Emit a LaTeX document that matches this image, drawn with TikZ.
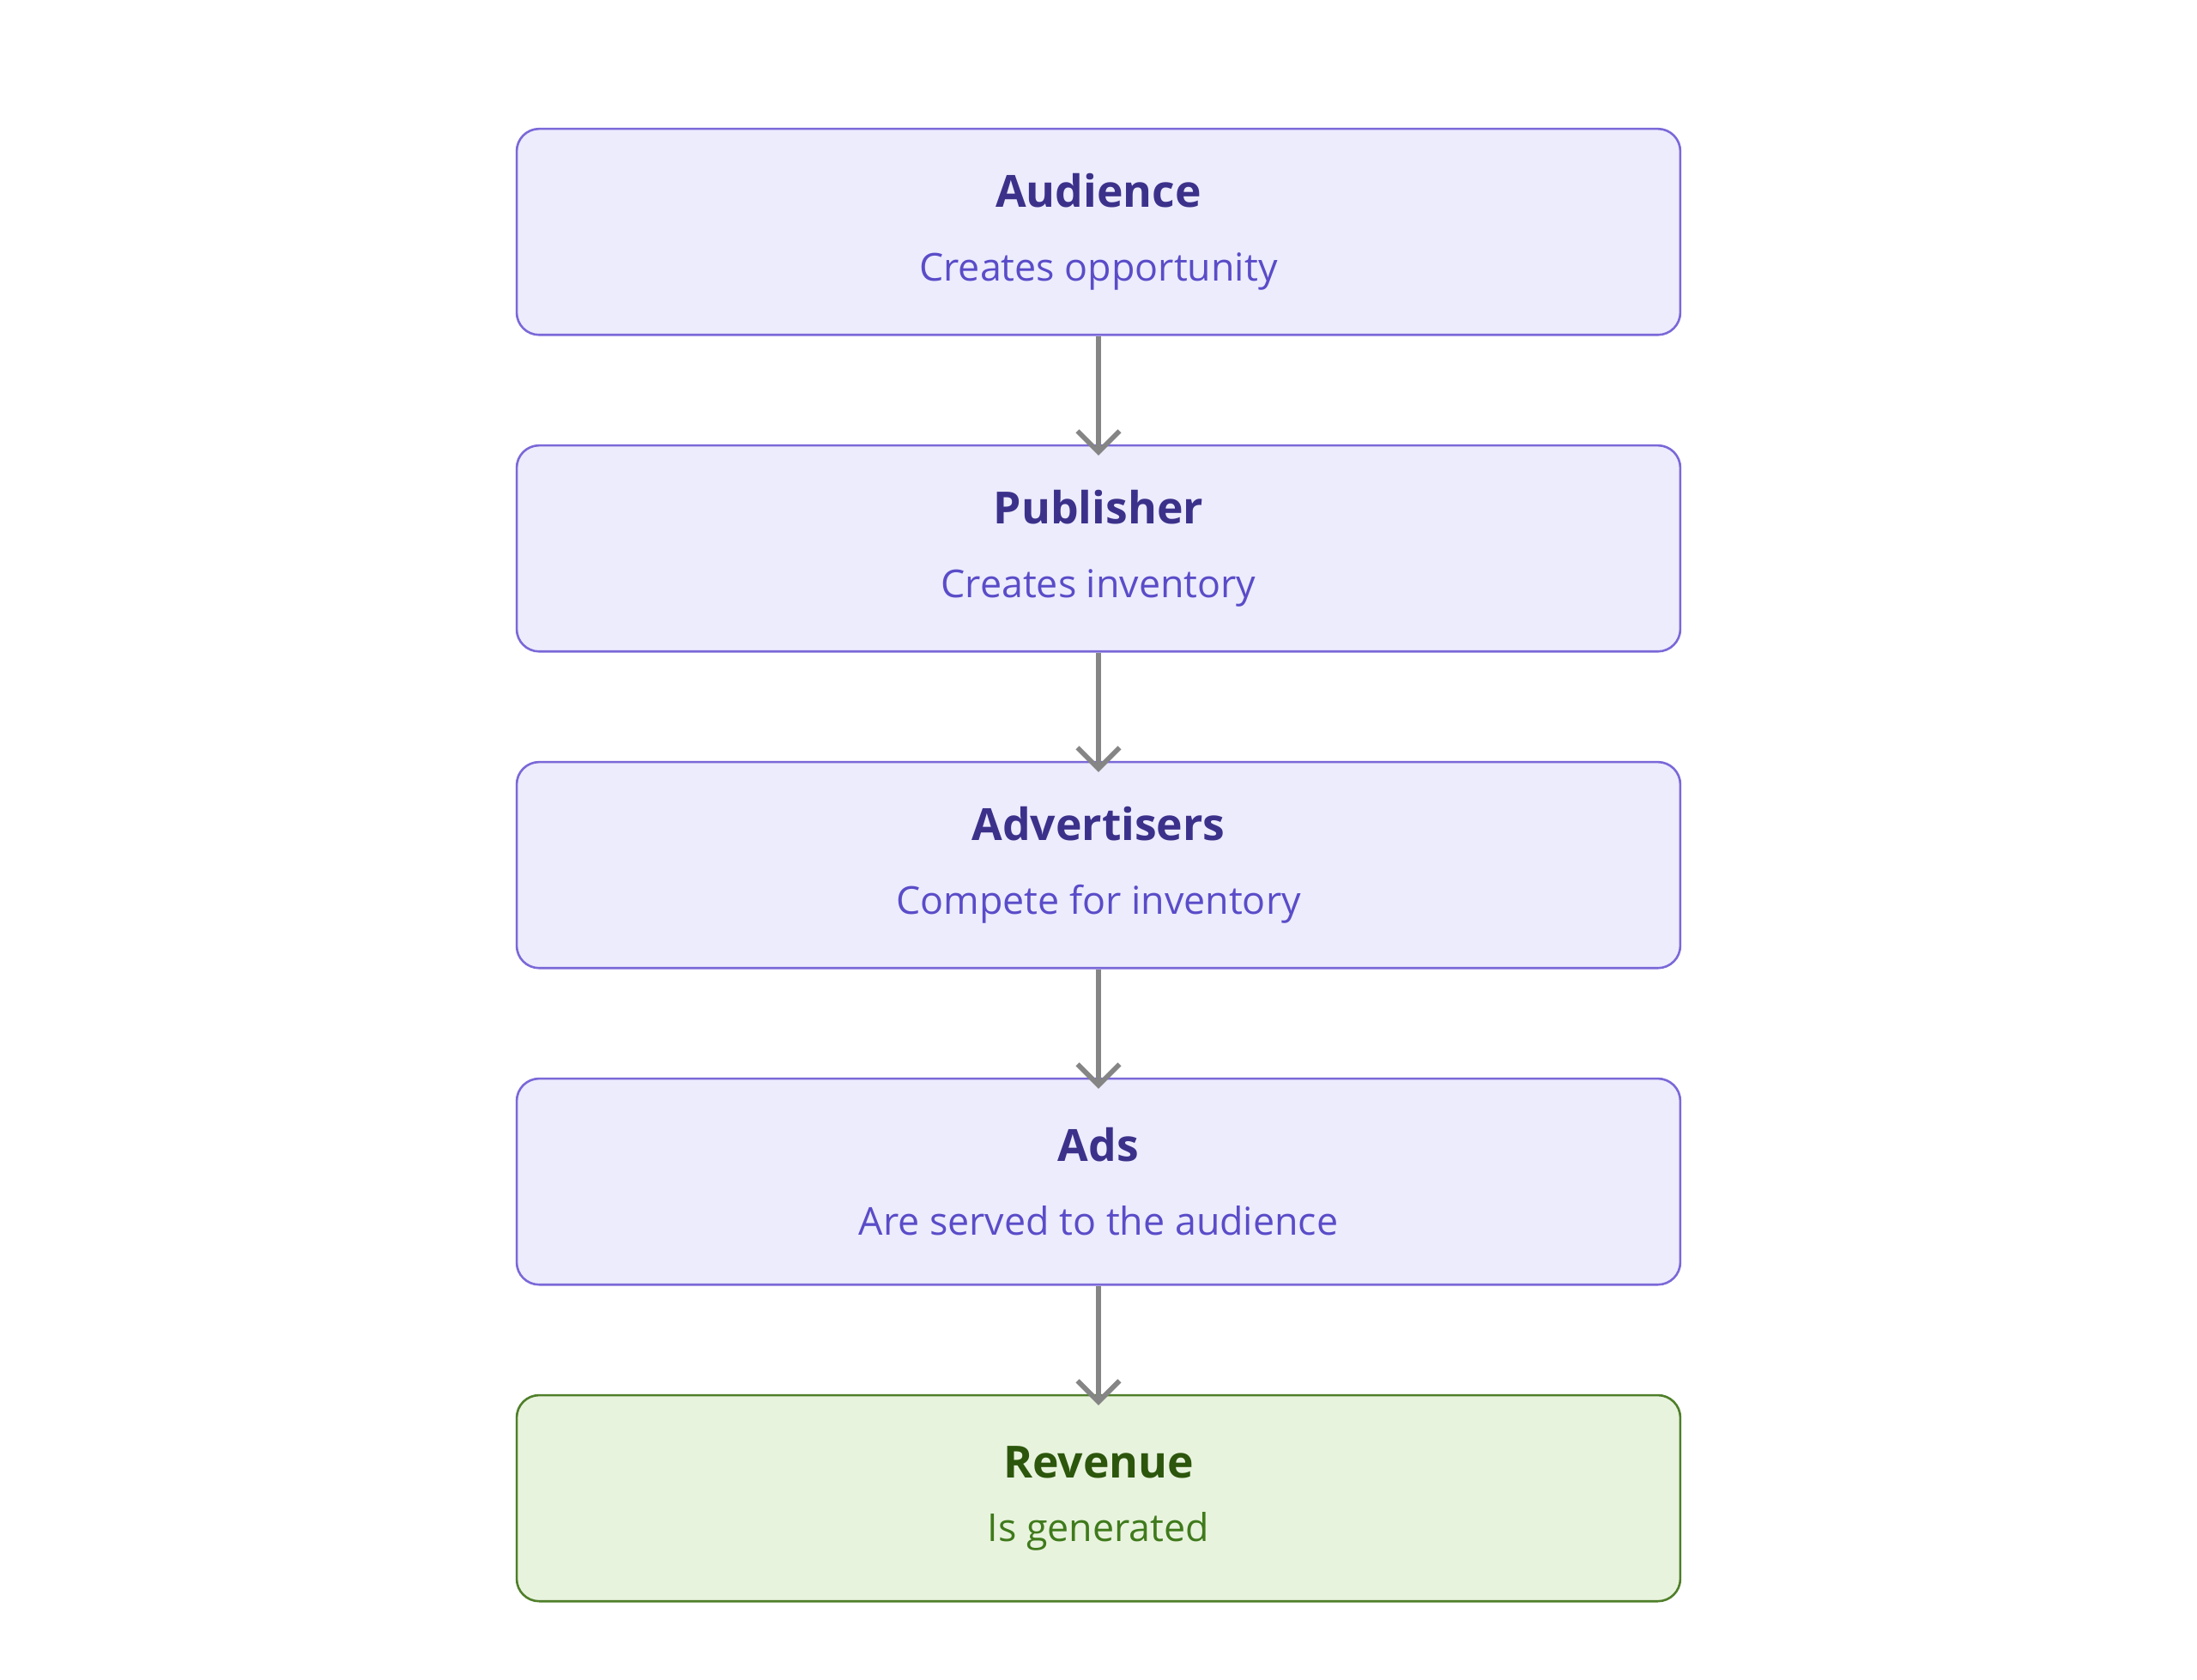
\documentclass[tikz,border=0pt]{standalone}
\usepackage{fontspec}
\setmainfont{Open Sans}
\usetikzlibrary{arrows.meta}
\definecolor{pfill}{HTML}{ECECFD}
\definecolor{pdraw}{HTML}{7B68D8}
\definecolor{ptitle}{HTML}{3C318A}
\definecolor{psub}{HTML}{5A4CC8}
\definecolor{gfill}{HTML}{E8F3DD}
\definecolor{gdraw}{HTML}{4F7F2A}
\definecolor{gtitle}{HTML}{2C560C}
\definecolor{gsub}{HTML}{3F7A1C}
\definecolor{arr}{HTML}{858585}
\tikzset{
 box/.style={draw=pdraw,fill=pfill,rounded corners=0.16cm,line width=0.45pt,minimum width=8.3cm,minimum height=1.47cm,inner sep=0pt,align=center},
 gbox/.style={box,draw=gdraw,fill=gfill},
 conn/.style={draw=arr,line width=1pt,-{Straight Barb[length=1.5mm,width=3mm]}}
}
\newcommand{\bt}[3]{{\fontsize{9}{11}\selectfont\bfseries\color{#1}#2}\\[1.2mm]{\fontsize{7.8}{10}\selectfont\color{#3}}}
\begin{document}
\begin{tikzpicture}[x=0.01cm,y=-0.01cm]
\useasboundingbox (0,0) rectangle (1568,1199);
\node[box] (a) at (784,165.5) {{\fontsize{9}{11}\selectfont\bfseries\color{ptitle}Audience}\\[1mm]{\fontsize{7.8}{10}\selectfont\color{psub}Creates opportunity}};
\node[box] (b) at (784,391.5) {{\fontsize{9}{11}\selectfont\bfseries\color{ptitle}Publisher}\\[1mm]{\fontsize{7.8}{10}\selectfont\color{psub}Creates inventory}};
\node[box] (c) at (784,617.5) {{\fontsize{9}{11}\selectfont\bfseries\color{ptitle}Advertisers}\\[1mm]{\fontsize{7.8}{10}\selectfont\color{psub}Compete for inventory}};
\node[box] (d) at (784,843.5) {{\fontsize{9}{11}\selectfont\bfseries\color{ptitle}Ads}\\[1mm]{\fontsize{7.8}{10}\selectfont\color{psub}Are served to the audience}};
\node[gbox] (e) at (784,1069.5) {{\fontsize{9}{11}\selectfont\bfseries\color{gtitle}Revenue}\\[0.3mm]{\fontsize{7.8}{10}\selectfont\color{gsub}Is generated}};
\draw[conn] (a.south) -- ([yshift=-0.08cm]b.north);
\draw[conn] (b.south) -- ([yshift=-0.08cm]c.north);
\draw[conn] (c.south) -- ([yshift=-0.08cm]d.north);
\draw[conn] (d.south) -- ([yshift=-0.08cm]e.north);
\end{tikzpicture}
\end{document}
